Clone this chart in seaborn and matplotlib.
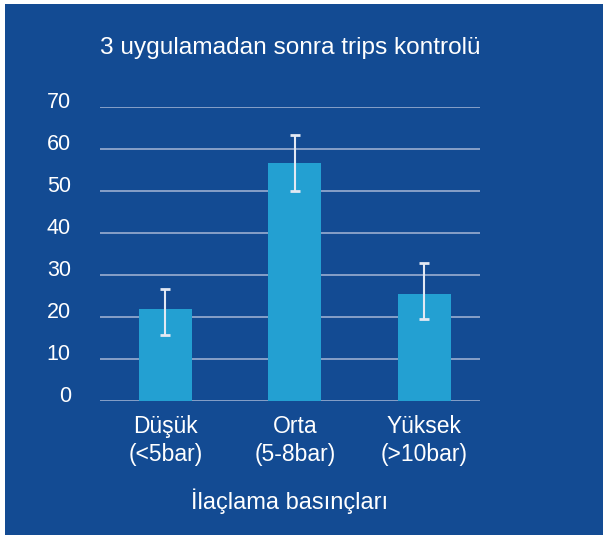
import matplotlib
matplotlib.use("Agg")
import matplotlib.pyplot as plt
from matplotlib.patches import Rectangle
from matplotlib.transforms import ScaledTranslation
import seaborn as sns
import pandas as pd

categories = ["Düşük\n(<5bar)", "Orta\n(5-8bar)", "Yüksek\n(>10bar)"]
values = [21.8, 56.6, 25.4]
err_lower = [6.2, 6.6, 5.9]
err_upper = [4.8, 6.7, 7.4]
yticks = [0, 10, 20, 30, 40, 50, 60, 70]
title = "3 uygulamadan sonra trips kontrolü"
xlabel = "İlaçlama basınçları"

BG = "#134b93"
BAR = "#23a0d2"
GRID = "#a6b7d6"

sns.set_theme(style="white")
plt.rcParams["font.family"] = ["Liberation Sans", "DejaVu Sans"]

fig = plt.figure(figsize=(6.03, 5.35), dpi=100)
fig.patch.set_facecolor("white")
fig.patches.append(Rectangle((5 / 603, 0), 1, (535 - 4) / 535, transform=fig.transFigure,
                             facecolor=BG, edgecolor="none", zorder=-10))

ax = fig.add_axes([100 / 603, (535 - 400.7) / 535, 380 / 603, 293.7 / 535])
ax.set_facecolor("none")

df = pd.DataFrame({"cat": categories, "val": values})
sns.barplot(data=df, x="cat", y="val", color=BAR, saturation=1, width=0.41,
            linewidth=0, edgecolor="none", ax=ax, zorder=3)
ax.errorbar(range(len(values)), values, yerr=[err_lower, err_upper], fmt="none",
            ecolor="#e2e8f3", elinewidth=1.5, capsize=3.8, capthick=2, zorder=4)

ax.set_ylim(0, 70)
ax.set_xlim(-0.506, 2.43)
ax.set_yticks(yticks)
ax.yaxis.grid(True, color=GRID, linewidth=1.1)
ax.set_axisbelow(True)
for s in ax.spines.values():
    s.set_visible(False)
ax.tick_params(axis="both", length=0, colors="white")
ax.tick_params(axis="y", pad=21, labelsize=15.5)
ax.tick_params(axis="x", pad=10, labelsize=16.5)
for lab in ax.get_yticklabels():
    lab.set_transform(lab.get_transform() + ScaledTranslation(0, 7 / 100, fig.dpi_scale_trans))
for lab in ax.get_xticklabels():
    lab.set_linespacing(1.3)

ax.set_xlabel(xlabel, color="white", fontsize=17, labelpad=16)
ax.set_ylabel("")
ax.set_title(title, color="white", fontsize=17.6, pad=38)

fig.savefig("out.png", dpi=100, facecolor=fig.get_facecolor())
